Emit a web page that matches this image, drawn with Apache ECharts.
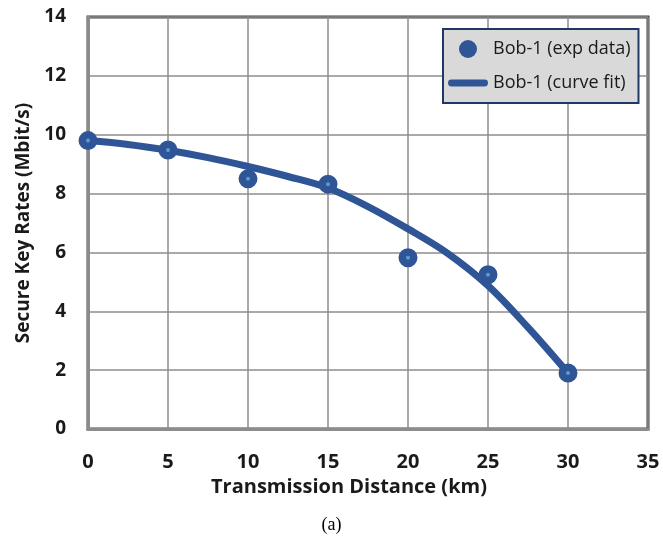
<!DOCTYPE html>
<html>
<head>
<meta charset="utf-8">
<script src="https://cdn.jsdelivr.net/npm/echarts@6/dist/echarts.min.js"></script>
<style>
html,body{margin:0;padding:0;background:#fff;}
#chart{width:663px;height:539px;}
</style>
</head>
<body>
<div id="chart"></div>
<script>
// Experimental data
var expDistance = [0, 5, 10, 15, 20, 25, 30];
var expRate = [9.8, 9.48, 8.5, 8.32, 5.82, 5.24, 1.9];
// Curve fit
var fitDistance = [0, 2.5, 5, 7.5, 10, 12.5, 15, 17.5, 20, 22.5, 25, 27.5, 30];
var fitRate = [9.8, 9.67, 9.47, 9.22, 8.92, 8.58, 8.19, 7.56, 6.8, 5.96, 4.87, 3.45, 1.9];
var xTicks = [0, 5, 10, 15, 20, 25, 30, 35];
var yTicks = [0, 2, 4, 6, 8, 10, 12, 14];
var expName = 'Bob-1 (exp data)';
var fitName = 'Bob-1 (curve fit)';
var xTitle = 'Transmission Distance (km)';
var yTitle = 'Secure Key Rates (Mbit/s)';
var caption = '(a)';

var blue = '#2f5597';
var font = '"Open Sans", "Noto Sans", sans-serif';

var chart = echarts.init(document.getElementById('chart'), null, {renderer: 'canvas'});
chart.setOption({
  animation: false,
  backgroundColor: '#ffffff',
  grid: {left: 88, right: 15, top: 17, bottom: 110, show: true, borderColor: '#404040', borderWidth: 3, backgroundColor: 'transparent'},
  xAxis: {
    type: 'value', min: xTicks[0], max: xTicks[xTicks.length - 1], interval: 5,
    name: xTitle, nameLocation: 'middle', nameGap: 42,
    nameTextStyle: {fontFamily: font, fontWeight: 'bold', fontSize: 20, color: '#1a1a1a', padding: [0, 38, 0, 0]},
    axisLine: {show: true, lineStyle: {color: '#8c8c8c', width: 3}},
    axisTick: {show: false},
    axisLabel: {margin: 23, fontFamily: font, fontWeight: 'bold', fontSize: 20, color: '#1a1a1a'},
    splitLine: {show: true, lineStyle: {color: '#8c8c8c', width: 1.5}}
  },
  yAxis: {
    type: 'value', min: yTicks[0], max: yTicks[yTicks.length - 1], interval: 2,
    name: yTitle, nameLocation: 'middle', nameGap: 50,
    nameTextStyle: {fontFamily: font, fontWeight: 'bold', fontSize: 19, color: '#1a1a1a'},
    axisLine: {show: true, lineStyle: {color: '#8c8c8c', width: 3}},
    axisTick: {show: false},
    axisLabel: {margin: 22, fontFamily: font, fontWeight: 'bold', fontSize: 19, color: '#1a1a1a'},
    splitLine: {show: true, lineStyle: {color: '#8c8c8c', width: 1.5}}
  },
  legend: {
    orient: 'vertical', left: 443, top: 29,
    backgroundColor: '#d9d9d9', borderColor: '#1f3864', borderWidth: 2, borderRadius: 0,
    padding: [11, 8, 11, 5], itemGap: 16, itemWidth: 40, itemHeight: 18,
    textStyle: {fontFamily: font, fontSize: 18, color: '#1a1a1a'},
    data: [
      {name: expName, icon: 'circle', itemStyle: {color: blue, borderWidth: 0}},
      {name: fitName, icon: 'path://M3,0 L37,0 A3.5,3.5 0 0 1 37,7 L3,7 A3.5,3.5 0 0 1 3,0 Z'}
    ]
  },
  series: [
    {
      name: fitName, type: 'line', smooth: 0.35, symbol: 'none', z: 2,
      data: fitDistance.map(function (d, i) { return [d, fitRate[i]]; }),
      lineStyle: {color: blue, width: 7, cap: 'round'},
      itemStyle: {color: blue}
    },
    {
      name: expName, type: 'scatter', symbol: 'circle', symbolSize: 11.5, z: 3,
      data: expDistance.map(function (d, i) { return [d, expRate[i]]; }),
      itemStyle: {color: '#5b9bd5', borderColor: blue, borderWidth: 7.5, opacity: 1}
    }
  ],
  graphic: [{
    type: 'text', left: 'center', top: 516,
    style: {text: caption, font: '18px "Liberation Serif", "DejaVu Serif", serif', fill: '#000'}
  }]
});
</script>
</body>
</html>
